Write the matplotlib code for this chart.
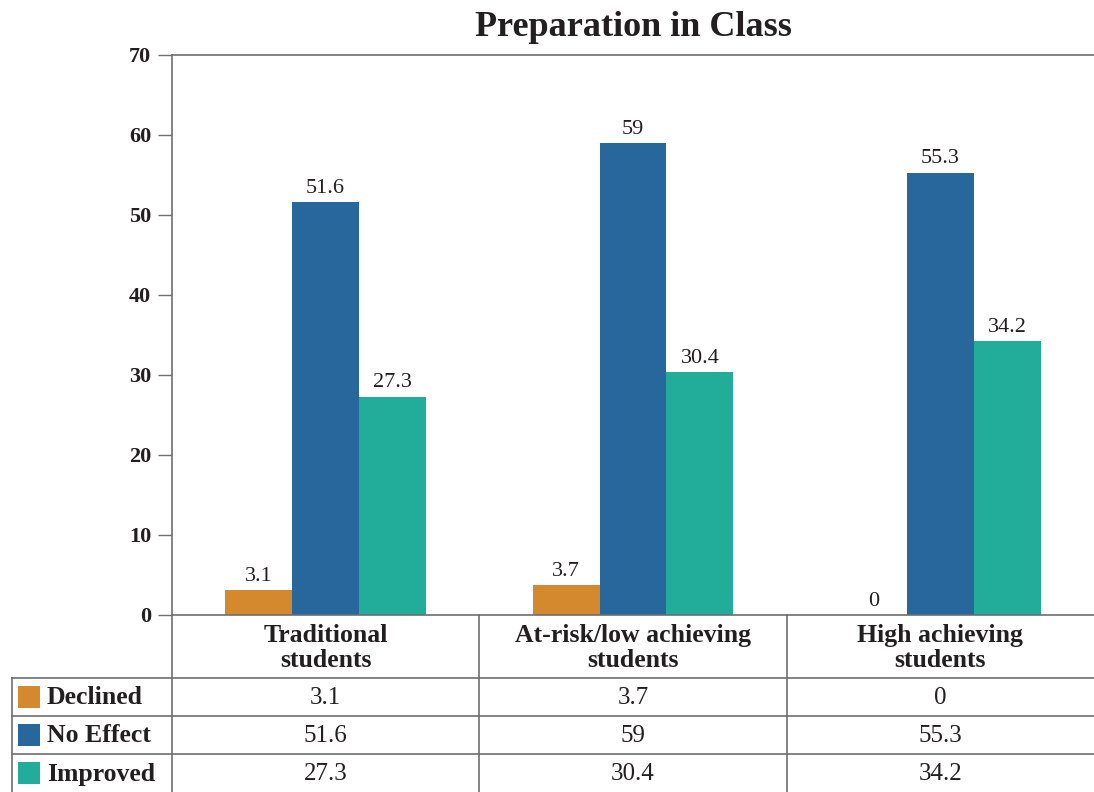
import numpy as np
import matplotlib
matplotlib.use("Agg")
import matplotlib.pyplot as plt
from matplotlib.patches import Rectangle

plt.rcParams['font.family'] = ['Liberation Serif', 'DejaVu Serif']

# data
categories = ["Traditional\nstudents", "At-risk/low achieving\nstudents", "High achieving\nstudents"]
series = ["Declined", "No Effect", "Improved"]
declined = [3.1, 3.7, 0]
no_effect = [51.6, 59, 55.3]
improved = [27.3, 30.4, 34.2]
colors = ["#D4892E", "#28679C", "#22AD9A"]

ink = "#231F20"
grey = "#6D6E71"

W, H = 1094, 792
fig = plt.figure(figsize=(W / 100, H / 100), dpi=100)

# chart area
ax = fig.add_axes([172 / W, 1 - 615 / H, 1 - 172 / W, (615 - 55) / H])
x = np.arange(len(categories))
bw = 0.218
values = [declined, no_effect, improved]
for k, (vals, c) in enumerate(zip(values, colors)):
    pos = x + (k - 1) * bw
    ax.bar(pos, vals, bw, color=c, linewidth=0)
    for p, v in zip(pos, vals):
        ax.annotate(f"{v:g}", (p, v), xytext=(0, 3), textcoords="offset points",
                    ha="center", va="bottom", fontsize=16, color=ink)

ax.set_xlim(-0.5, 2.5)
ax.set_ylim(0, 70)
ax.set_yticks(range(0, 71, 10))
ax.set_xticks([])
ax.tick_params(axis="y", length=10, width=1, color=grey, pad=5, labelsize=16, labelcolor=ink)
for lab in ax.get_yticklabels():
    lab.set_fontweight("bold")
ax.spines["right"].set_visible(False)
for s in ["left", "top", "bottom"]:
    ax.spines[s].set_color(grey)
    ax.spines[s].set_linewidth(1.2)
ax.set_title("Preparation in Class", fontsize=26, fontweight="bold", color=ink, pad=14)

# data table below
colw = (W - 172) / 3
lab_w = 160 / colw
tax = fig.add_axes([12 / W, 0, 1 - 12 / W, 177 / H])
tax.set_xlim(-0.5 - lab_w, 2.5)
tax.set_ylim(177, 0)
tax.axis("off")

head_h = 63
row_h = 38
left = -0.5 - lab_w
for xv in [-0.5, 0.5, 1.5]:
    tax.plot([xv, xv], [0, 177], color=grey, lw=1.2, clip_on=False)
tax.plot([left, left], [head_h, 177], color=grey, lw=1.2, clip_on=False)
for r in range(3):
    yv = head_h + r * row_h
    tax.plot([left, 2.5], [yv, yv], color=grey, lw=1.2, clip_on=False)

for i, cat in enumerate(categories):
    tax.text(i, head_h / 2 + 1.5, cat, ha="center", va="center", fontsize=18.5,
             fontweight="bold", color=ink, linespacing=1.12)

for r, (name, vals, c) in enumerate(zip(series, values, colors)):
    yc = head_h + r * row_h + row_h / 2
    tax.add_patch(Rectangle((left + 6 / colw, yc - 11), 22 / colw, 22, color=c, lw=0))
    tax.text(left + 35 / colw, yc + 1, name, ha="left", va="center", fontsize=18.5,
             fontweight="bold", color=ink)
    for i, v in enumerate(vals):
        tax.text(i, yc + 1.5, f"{v:g}", ha="center", va="center", fontsize=18, color=ink)

fig.savefig("out.png", dpi=100)
